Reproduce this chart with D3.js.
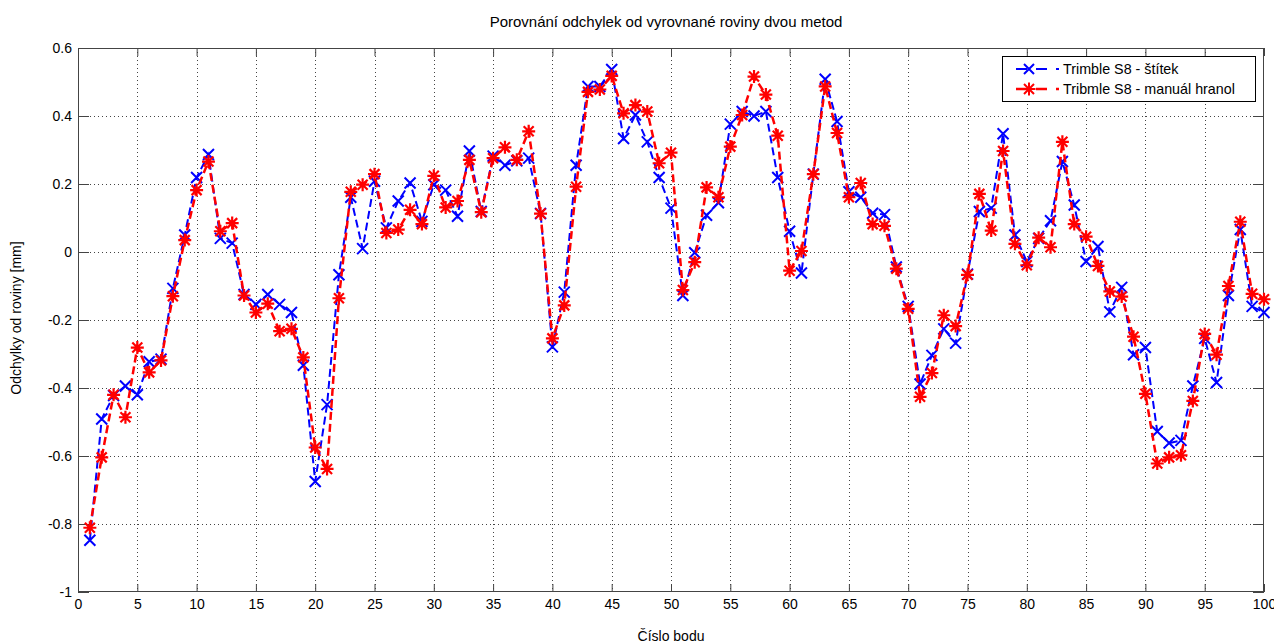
<!DOCTYPE html>
<html>
<head>
<meta charset="utf-8">
<script src="https://cdn.jsdelivr.net/npm/d3@7"></script>
<style>
  body { margin:0; background:#fff; }
  svg { display:block; font-family:"Liberation Sans", Arial, sans-serif; }
</style>
</head>
<body>
<svg id="svg" width="1274" height="643"></svg>
<script>
const title = 'Porovnání odchylek od vyrovnané roviny dvou metod';
const xLabel = 'Číslo bodu';
const yLabel = 'Odchylky od roviny [mm]';
const seriesNames = ['Trimble S8 - štítek', 'Tribmle S8 - manuál hranol'];

const xTicks = d3.range(0, 101, 5);
const yTicks = [-1, -0.8, -0.6, -0.4, -0.2, 0, 0.2, 0.4, 0.6];

// values for points 1..100
const stitek = [
  -0.848, -0.491, -0.422, -0.394, -0.420, -0.323, -0.315, -0.107, 0.050, 0.219,
   0.287,  0.040,  0.026, -0.125, -0.154, -0.125, -0.154, -0.178, -0.333, -0.675,
  -0.449, -0.067,  0.161,  0.010,  0.208,  0.071,  0.150,  0.203,  0.090,  0.198,
   0.182,  0.105,  0.297,  0.119,  0.282,  0.255,  0.268,  0.276,  0.113, -0.279,
  -0.118,  0.255,  0.487,  0.487,  0.537,  0.334,  0.403,  0.324,  0.219,  0.129,
  -0.128, -0.002,  0.108,  0.145,  0.376,  0.413,  0.400,  0.413,  0.219,  0.061,
  -0.062,  0.229,  0.508,  0.384,  0.177,  0.161,  0.114,  0.110, -0.044, -0.160,
  -0.388, -0.304, -0.226, -0.268, -0.065,  0.119,  0.129,  0.348,  0.050, -0.028,
   0.040,  0.092,  0.266,  0.138, -0.028,  0.016, -0.176, -0.104, -0.302, -0.281,
  -0.528, -0.562, -0.554, -0.394, -0.254, -0.384, -0.128,  0.066, -0.160, -0.178
];
const hranol = [
  -0.811, -0.604, -0.420, -0.486, -0.281, -0.354, -0.319, -0.130, 0.035, 0.182,
   0.266,  0.061,  0.085, -0.128, -0.178, -0.152, -0.233, -0.226, -0.310, -0.575,
  -0.638, -0.136,  0.177,  0.198,  0.229,  0.056,  0.066,  0.124,  0.082,  0.224,
   0.131,  0.150,  0.271,  0.117,  0.276,  0.308,  0.271,  0.355,  0.113, -0.254,
  -0.157,  0.192,  0.471,  0.478,  0.518,  0.408,  0.432,  0.413,  0.261,  0.292,
  -0.112, -0.030,  0.190,  0.161,  0.310,  0.403,  0.516,  0.463,  0.342, -0.055,
   0.003,  0.229,  0.487,  0.350,  0.161,  0.203,  0.082,  0.077, -0.049, -0.167,
  -0.426, -0.356, -0.186, -0.218, -0.067,  0.171,  0.063,  0.297,  0.024, -0.039,
   0.042,  0.014,  0.324,  0.082,  0.045, -0.041, -0.116, -0.131, -0.249, -0.417,
  -0.622, -0.604, -0.598, -0.438, -0.241, -0.302, -0.100,  0.089, -0.123, -0.139
];

const svg = d3.select('#svg');
const m = { top:48, right:10, bottom:51, left:78 };
const W = 1274, H = 643;
const x = d3.scaleLinear().domain([0, 100]).range([m.left, W - m.right]);
const y = d3.scaleLinear().domain([-1, 0.6]).range([H - m.bottom, m.top]);
const axisColor = '#444';

// grid
const grid = svg.append('g').attr('stroke', '#444').attr('stroke-width', 1).attr('stroke-dasharray', '1,3');
grid.selectAll('.gx').data(xTicks.slice(1, -1)).join('line')
  .attr('x1', d => Math.round(x(d)) + 0.5).attr('x2', d => Math.round(x(d)) + 0.5)
  .attr('y1', m.top).attr('y2', H - m.bottom);
grid.selectAll('.gy').data(yTicks.slice(1, -1)).join('line')
  .attr('y1', d => Math.round(y(d)) + 0.5).attr('y2', d => Math.round(y(d)) + 0.5)
  .attr('x1', m.left).attr('x2', W - m.right);

// axes with inner ticks on all sides
const fmt = d => String(d);
svg.append('g').attr('transform', `translate(0,${H - m.bottom})`)
  .call(d3.axisBottom(x).tickValues(xTicks).tickSizeInner(-8).tickSizeOuter(0).tickPadding(7).tickFormat(fmt));
svg.append('g').attr('transform', `translate(0,${m.top})`)
  .call(d3.axisTop(x).tickValues(xTicks).tickSizeInner(-8).tickSizeOuter(0).tickFormat(''));
svg.append('g').attr('transform', `translate(${m.left},0)`)
  .call(d3.axisLeft(y).tickValues(yTicks).tickSizeInner(-11).tickSizeOuter(0).tickPadding(6).tickFormat(fmt));
svg.append('g').attr('transform', `translate(${W - m.right},0)`)
  .call(d3.axisRight(y).tickValues(yTicks).tickSizeInner(-11).tickSizeOuter(0).tickFormat(''));
svg.selectAll('.domain').remove();
svg.selectAll('.tick line').attr('stroke', axisColor);
svg.selectAll('.tick text').attr('font-size', 14).attr('font-family', '"Liberation Sans", Arial, sans-serif').attr('fill', '#000');

svg.append('rect').attr('x', m.left + 0.5).attr('y', m.top + 0.5)
  .attr('width', W - m.right - m.left - 1).attr('height', H - m.bottom - m.top - 1)
  .attr('fill', 'none').attr('stroke', axisColor);

// series
const series = [
  { name: seriesNames[0], vals: stitek, color: '#0000ff', marker: 'x', width: 2 },
  { name: seriesNames[1], vals: hranol, color: '#ff0000', marker: '*', width: 2.5 }
];
const line = d3.line().x((d, i) => x(i + 1)).y(d => y(d));

function markerPath(type, s) {
  const p = d3.path();
  p.moveTo(-s, -s); p.lineTo(s, s);
  p.moveTo(-s, s); p.lineTo(s, -s);
  if (type === '*') {
    const r = s * 1.3;
    p.moveTo(-r, 0); p.lineTo(r, 0);
    p.moveTo(0, -r); p.lineTo(0, r);
  }
  return p.toString();
}

series.forEach(s => {
  const g = svg.append('g');
  g.append('path').datum(s.vals).attr('d', line)
    .attr('fill', 'none').attr('stroke', s.color).attr('stroke-width', s.width)
    .attr('stroke-dasharray', '8,4');
  g.selectAll('path.mk').data(s.vals).join('path').attr('class', 'mk')
    .attr('transform', (d, i) => `translate(${x(i + 1)},${y(d)})`)
    .attr('d', markerPath(s.marker, s.marker === 'x' ? 5.5 : 5))
    .attr('fill', 'none').attr('stroke', s.color).attr('stroke-width', s.marker === 'x' ? 2 : 2.2);
});

// legend
const lg = svg.append('g').attr('transform', 'translate(1002,56)');
lg.append('rect').attr('x', 0.5).attr('y', 0.5).attr('width', 253).attr('height', 45)
  .attr('fill', '#fff').attr('stroke', '#000');
series.forEach((s, i) => {
  const yy = 13 + i * 20;
  lg.append('line').attr('x1', 14).attr('x2', 57).attr('y1', yy).attr('y2', yy)
    .attr('stroke', s.color).attr('stroke-width', s.width).attr('stroke-dasharray', '11,9');
  lg.append('path').attr('transform', `translate(27,${yy})`).attr('d', markerPath(s.marker, 5))
    .attr('fill', 'none').attr('stroke', s.color).attr('stroke-width', 2);
  lg.append('text').attr('x', 61).attr('y', yy + 5).attr('font-size', 14.3).text(s.name);
});

// labels
svg.append('text').attr('x', 666).attr('y', 27).attr('text-anchor', 'middle')
  .attr('font-size', 15).text(title);
svg.append('text').attr('x', 671).attr('y', 641).attr('text-anchor', 'middle')
  .attr('font-size', 14).text(xLabel);
svg.append('text').attr('transform', 'translate(21,318) rotate(-90)').attr('text-anchor', 'middle')
  .attr('font-size', 14).text(yLabel);
</script>
</body>
</html>
